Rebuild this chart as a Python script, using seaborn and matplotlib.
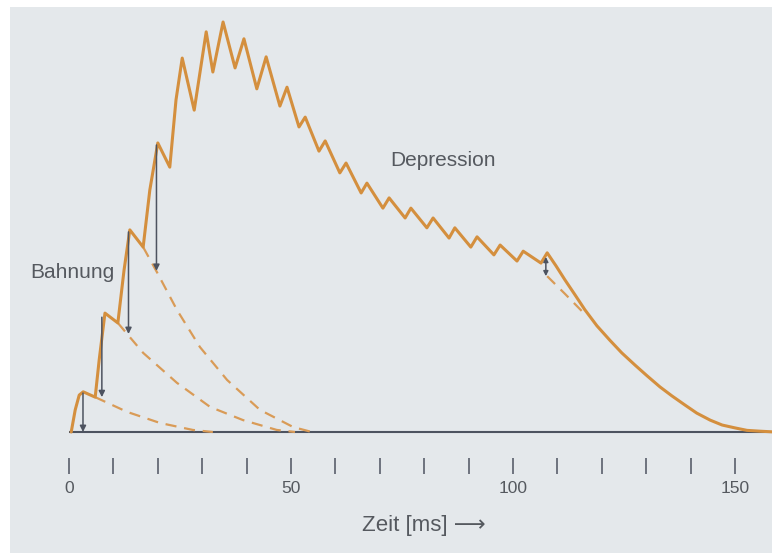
import matplotlib
matplotlib.use("Agg")
import matplotlib.pyplot as plt
import seaborn as sns
import pandas as pd
from matplotlib.patches import Rectangle

# Summed postsynaptic potential during a stimulus train (time in ms, relative amplitude)
trace_t = [0.5, 1.4, 2.3, 3.2, 5.9, 6.8, 8.1, 11.0, 12.4, 13.7, 16.7, 18.2, 20.0,
           22.7, 24.1, 25.5, 28.2, 30.9, 32.4, 34.7, 37.4, 39.4, 42.3, 44.4, 47.5,
           49.1, 51.8, 53.2, 56.3, 57.7, 61.0, 62.4, 65.8, 67.1, 70.7, 72.1, 75.7,
           77.0, 80.6, 82.0, 85.6, 86.9, 90.5, 91.9, 95.7, 97.1, 100.9, 102.3,
           106.3, 107.7, 109.7, 111.7, 114.0, 116.2, 118.9, 121.8, 124.5, 127.5,
           130.2, 133.1, 135.8, 138.7, 141.4, 144.4, 147.1, 150.0, 152.7, 155.6,
           159.0]
trace_v = [0.0, 5.4, 9.0, 9.8, 8.5, 17.6, 29.0, 26.6, 39.5, 49.3, 45.1, 59.0, 70.5,
           64.6, 81.0, 91.2, 78.5, 97.6, 87.8, 100.0, 88.8, 95.9, 83.7, 91.5, 79.5,
           84.1, 74.4, 76.8, 68.5, 71.0, 63.2, 65.6, 58.3, 60.7, 54.6, 57.1, 52.2,
           54.6, 49.8, 52.2, 47.3, 49.8, 45.1, 47.6, 43.2, 45.6, 41.7, 44.1,
           41.2, 43.7, 40.5, 37.1, 33.4, 29.8, 25.9, 22.4, 19.3, 16.3,
           13.7, 11.0, 8.8, 6.6, 4.6, 2.9, 1.7, 1.0, 0.4, 0.2,
           0.0]

# Decay that would follow without the next stimulus
decay1_t = [5.9, 13.1, 20.5, 27.9, 32.4]
decay1_v = [8.5, 4.9, 2.2, 0.5, 0.0]
decay2_t = [11.0, 16.7, 24.3, 31.8, 39.2, 46.8, 50.9]
decay2_v = [26.6, 19.3, 12.0, 6.1, 2.9, 0.5, 0.0]
decay3_t = [16.7, 19.8, 24.3, 29.5, 35.6, 43.0, 50.5, 54.7]
decay3_v = [45.1, 39.0, 29.8, 20.7, 12.7, 5.4, 1.2, 0.0]
decay4_t = [107.7, 111.7, 115.5]
decay4_v = [38.0, 33.7, 29.5]

# Increment added by single stimuli: time, top, bottom
incr_t = [3.15, 7.4, 13.4, 19.7]
incr_top = [9.5, 28.0, 48.8, 70.0]
incr_bottom = [0.0, 8.5, 23.9, 39.3]
last_incr = (107.4, 42.7, 38.0)

tick_values = list(range(0, 151, 10))
tick_labels = [str(v) if v % 50 == 0 else "" for v in tick_values]

paper = "#e4e8eb"
orange = "#d48f3e"
dash_orange = "#d99b57"
slate = "#4d5360"
text_gray = "#55595f"

sns.set_theme(style="white", rc={"axes.facecolor": "none", "figure.facecolor": paper})
plt.rcParams["font.family"] = ["Liberation Sans", "DejaVu Sans"]

fig = plt.figure(figsize=(7.72, 5.53), dpi=100)
fig.patches.append(Rectangle((0, 0), 10 / 772, 1, transform=fig.transFigure,
                             facecolor="white", edgecolor="none", zorder=-5))
fig.patches.append(Rectangle((0, 1 - 7 / 553), 1, 7 / 553, transform=fig.transFigure,
                             facecolor="white", edgecolor="none", zorder=-5))

ax = fig.add_axes([0, 95 / 553, 1, 458 / 553])
ax.set_xlim(-69 / 4.44, 703 / 4.44)
ax.set_ylim(-26 / 4.1, 432 / 4.1)

# baseline
ax.hlines(0, 0, 703 / 4.44, color=slate, lw=1.5, zorder=1)

dash_style = (0, (5, 3.5))
for dt, dv in [(decay1_t, decay1_v), (decay2_t, decay2_v),
               (decay3_t, decay3_v), (decay4_t, decay4_v)]:
    sns.lineplot(x=dt, y=dv, ax=ax, sort=False, estimator=None, color=dash_orange,
                 lw=1.6, linestyle=dash_style, zorder=2)

trace = pd.DataFrame({"t": trace_t, "v": trace_v})
sns.lineplot(data=trace, x="t", y="v", ax=ax, sort=False, estimator=None,
             color=orange, lw=2.2, zorder=3,
             solid_joinstyle="round", solid_capstyle="round")

for t, top, bottom in zip(incr_t, incr_top, incr_bottom):
    ax.annotate("", xy=(t, bottom), xytext=(t, top),
                arrowprops=dict(arrowstyle="-|>", color=slate, lw=1.1,
                                mutation_scale=9, shrinkA=0, shrinkB=0), zorder=4)
ax.annotate("", xy=(last_incr[0], last_incr[2]), xytext=(last_incr[0], last_incr[1]),
            arrowprops=dict(arrowstyle="<|-|>", color=slate, lw=1.1,
                            mutation_scale=7, shrinkA=0, shrinkB=0), zorder=4)

ax.text(-8.8, 39.0, "Bahnung", fontsize=15, color=text_gray, va="center", ha="left")
ax.text(72.3, 66.3, "Depression", fontsize=15, color=text_gray, va="center", ha="left")

for s in ax.spines.values():
    s.set_visible(False)
ax.set_yticks([])
ax.set_ylabel("")
ax.set_xticks(tick_values)
ax.set_xticklabels(tick_labels)
ax.tick_params(axis="x", bottom=True, direction="out", length=11.5, width=1.1,
               color=slate, pad=5, labelsize=12.5, labelcolor=text_gray)
ax.set_xlabel("Zeit [ms] \u27f6", fontsize=16, color=text_gray)
ax.xaxis.set_label_coords(423.5 / 772, (458 - 525) / 458)
ax.xaxis.label.set_va("center")

fig.savefig("out.png", dpi=100, facecolor=paper)
